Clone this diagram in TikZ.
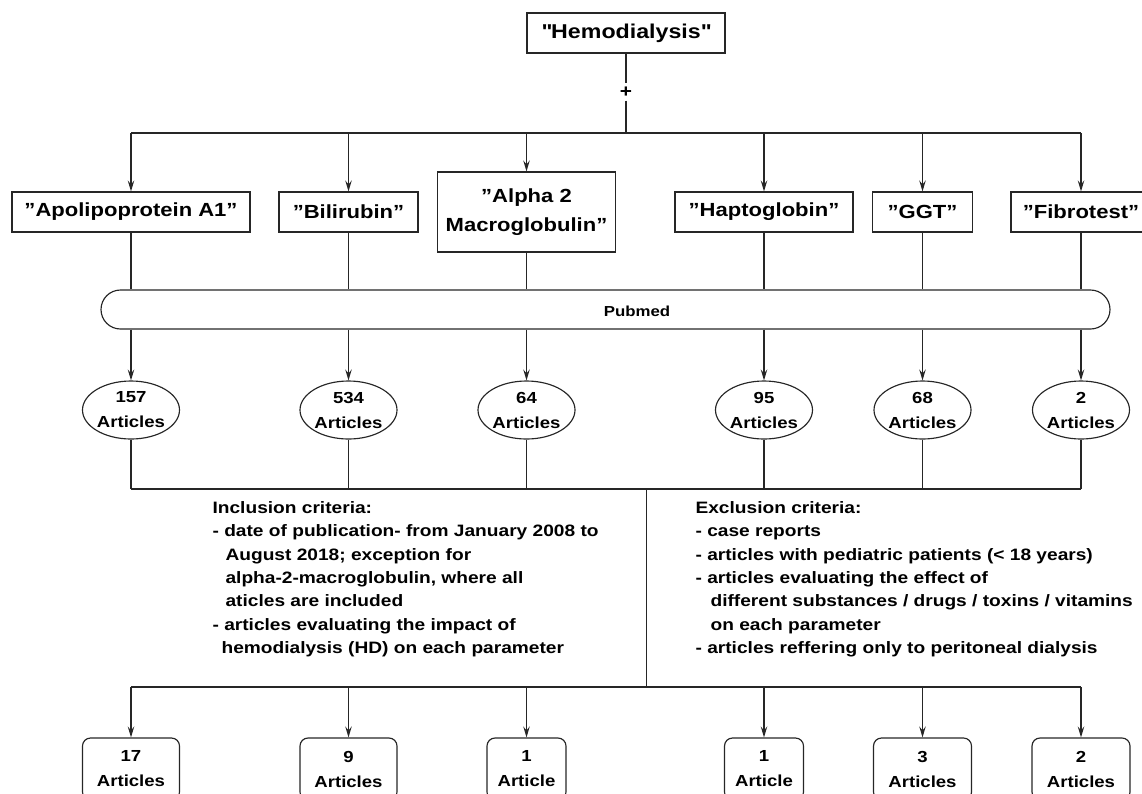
\documentclass[tikz,border=0pt]{standalone}
\usepackage{fontspec}
\setmainfont{Liberation Sans}[FakeStretch=1.16]
\usetikzlibrary{arrows.meta,shapes.geometric}
\newcommand{\strq}{\XeTeXglyph\XeTeXcharglyph"22\relax}
\begin{document}
\begin{tikzpicture}[x=1pt,y=-1pt,line width=1.15pt,draw=black!85,
  arr/.style={-{Stealth[length=11pt,width=6.5pt,inset=4pt]}},
  topbox/.style={draw,rectangle,inner sep=0pt,minimum height=40pt,align=center,
    font=\bfseries\fontsize{19}{29}\selectfont},
  ell/.style={draw,ellipse,inner sep=0pt,minimum width=97pt,minimum height=58pt,align=center,
    font=\bfseries\fontsize{16}{25}\selectfont},
  botbox/.style={draw,rectangle,rounded corners=8pt,inner sep=0pt,minimum height=62pt,align=center,
    font=\bfseries\fontsize{16}{25}\selectfont},
  crit/.style={inner sep=0pt,align=left,anchor=north west,
    font=\bfseries\fontsize{16.5}{23.3}\selectfont}]
\useasboundingbox (0,0) rectangle (1142,793);
\clip (0,0) rectangle (1142,793);
% top
\node[topbox,minimum width=198pt,font=\bfseries\fontsize{20}{24}\selectfont] (hd) at (626,33) {\strq Hemodialysis\strq};
\node[inner sep=0pt,minimum size=16pt,font=\bfseries\fontsize{18}{18}\selectfont] (plus) at (626,92) {+};
\coordinate (j1) at (626,133);
\draw (hd.south) -- (plus.north);
\draw (plus.south) -- (j1);
% search term boxes
\node[topbox,minimum width=238pt] (apo) at (131,212) {”Apolipoprotein A1”};
\node[topbox,minimum width=139pt] (bil) at (348.5,212) {”Bilirubin”};
\node[topbox,minimum width=178pt,minimum height=80pt] (alp) at (526.5,212) {”Alpha 2\\Macroglobulin”};
\node[topbox,minimum width=178pt] (hap) at (764,212) {”Haptoglobin”};
\node[topbox,minimum width=100pt] (ggt) at (922.5,212) {”GGT”};
\node[topbox,minimum width=140pt] (fib) at (1081,212) {”Fibrotest”};
\draw (apo |- j1) -- (fib |- j1);
\foreach \n in {apo,bil,alp,hap,ggt,fib} \draw[arr] (\n |- j1) -- (\n.north);
% pubmed bar
\node[draw,rectangle,rounded corners=19.5pt,minimum width=1009pt,minimum height=39pt,inner sep=0pt] (pub) at (605.5,309.5) {};
\node[inner sep=0pt,font=\bfseries\fontsize{14.5}{14.5}\selectfont] (publbl) at (637,311) {Pubmed};
% article ellipses
\node[ell] (e1) at (131,410) {157\\Articles};
\node[ell] (e2) at (348.5,410) {534\\Articles};
\node[ell] (e3) at (526.5,410) {64\\Articles};
\node[ell] (e4) at (764,410) {95\\Articles};
\node[ell] (e5) at (922.5,410) {68\\Articles};
\node[ell] (e6) at (1081,410) {2\\Articles};
\foreach \n/\e in {apo/e1,bil/e2,alp/e3,hap/e4,ggt/e5,fib/e6}{
  \draw (\n.south) -- (\n |- pub.north);
  \draw[arr] (\n |- pub.south) -- (\e.north);
}
% collect
\coordinate (c1) at (646.5,489);
\coordinate (c2) at (646.5,687);
\foreach \e in {e1,e2,e3,e4,e5,e6} \draw (\e.south) -- (\e |- c1);
\draw (e1 |- c1) -- (e6 |- c1);
\draw (c1) -- (c2);
% criteria
\node[crit] (inc) at (212,501) {Inclusion criteria:\\
- date of publication- from January 2008 to\\
\hspace*{13pt}August 2018; exception for\\
\hspace*{13pt}alpha-2-macroglobulin, where all\\
\hspace*{13pt}aticles are included\\
- articles evaluating the impact of\\
\hspace*{9pt}hemodialysis (HD) on each parameter};
\node[crit] (exc) at (695,501) {Exclusion criteria:\\
- case reports\\
- articles with pediatric patients (< 18 years)\\
- articles evaluating the effect of\\
\hspace*{15pt}different substances / drugs / toxins / vitamins\\
\hspace*{15pt}on each parameter\\
- articles reffering only to peritoneal dialysis};
% final boxes
\node[botbox,minimum width=97pt] (b1) at (131,769) {17\\Articles};
\node[botbox,minimum width=97pt] (b2) at (348.5,769) {9\\Articles};
\node[botbox,minimum width=79pt] (b3) at (526.5,769) {1\\Article};
\node[botbox,minimum width=79pt] (b4) at (764,769) {1\\Article};
\node[botbox,minimum width=98pt] (b5) at (922.5,769) {3\\Articles};
\node[botbox,minimum width=98pt] (b6) at (1081,769) {2\\Articles};
\draw (b1 |- c2) -- (b6 |- c2);
\foreach \b in {b1,b2,b3,b4,b5,b6} \draw[arr] (\b |- c2) -- (\b.north);
\end{tikzpicture}
\end{document}
